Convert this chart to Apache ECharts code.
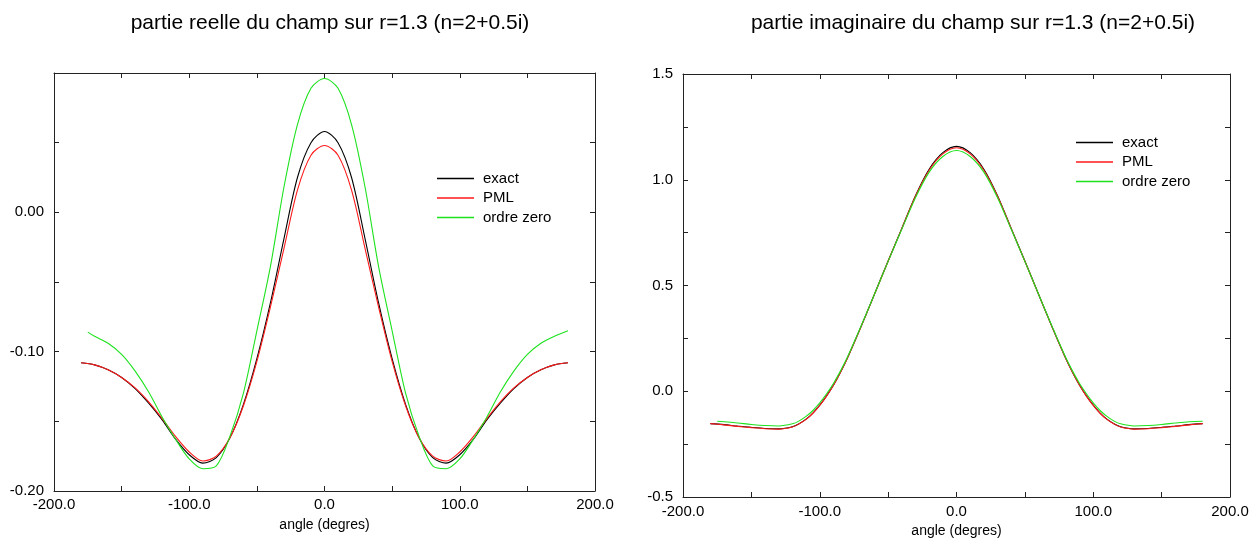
<!DOCTYPE html>
<html>
<head>
<meta charset="utf-8">
<script src="https://cdn.jsdelivr.net/npm/echarts@6/dist/echarts.min.js"></script>
<style>
html, body { margin: 0; padding: 0; background: #fff; }
#main { width: 1254px; height: 544px; }
</style>
</head>
<body>
<div id="main"></div>
<script>
// angles (degres) - partie reelle
var anglesRe = [-180, -170, -160, -150, -140, -130, -120, -110, -100, -90, -80, -70, -60, -50, -40, -30, -20, -10,
	0, 10, 20, 30, 40, 50, 60, 70, 80, 90, 100, 110, 120, 130, 140, 150, 160, 170, 180];
var anglesReZero = [-175, -170, -160, -150, -140, -130, -120, -110, -100, -90, -80, -70, -60, -50, -40, -30, -20, -10,
	0, 10, 20, 30, 40, 50, 60, 70, 80, 90, 100, 110, 120, 130, 140, 150, 160, 170, 180];
// angles (degres) - partie imaginaire
var anglesIm = [-180, -170, -160, -150, -140, -130, -120, -115, -110, -105, -100, -95, -90, -85, -80, -70, -60, -50, -40, -30, -20, -10,
	0, 10, 20, 30, 40, 50, 60, 70, 80, 85, 90, 95, 100, 105, 110, 115, 120, 130, 140, 150, 160, 170, 180];
var anglesImZero = [-175, -170, -160, -150, -140, -130, -120, -115, -110, -105, -100, -95, -90, -85, -80, -70, -60, -50, -40, -30, -20, -10,
	0, 10, 20, 30, 40, 50, 60, 70, 80, 85, 90, 95, 100, 105, 110, 115, 120, 130, 140, 150, 160, 170, 180];

// partie reelle
var reExact = [-0.108, -0.1095, -0.113, -0.1185, -0.1265, -0.137, -0.149, -0.163, -0.174, -0.180, -0.176, -0.162, -0.138, -0.105, -0.065, -0.019, 0.025, 0.050,
	0.058, 0.050, 0.025, -0.019, -0.065, -0.105, -0.138, -0.162, -0.176, -0.180, -0.174, -0.163, -0.149, -0.137, -0.1265, -0.1185, -0.113, -0.1095, -0.108];
var rePML = [-0.108, -0.1095, -0.113, -0.1185, -0.126, -0.136, -0.148, -0.161, -0.172, -0.1785, -0.175, -0.162, -0.139, -0.107, -0.068, -0.026, 0.016, 0.041,
	0.048, 0.041, 0.016, -0.026, -0.068, -0.107, -0.139, -0.162, -0.175, -0.1785, -0.172, -0.161, -0.148, -0.136, -0.126, -0.1185, -0.113, -0.1095, -0.108];
var reZero = [-0.086, -0.089, -0.094, -0.102, -0.114, -0.129, -0.147, -0.163, -0.177, -0.184, -0.182, -0.161, -0.130, -0.085, -0.039, 0.018, 0.063, 0.089,
	0.096, 0.089, 0.063, 0.018, -0.039, -0.085, -0.130, -0.161, -0.182, -0.184, -0.177, -0.163, -0.147, -0.129, -0.114, -0.102, -0.094, -0.089, -0.085];

// partie imaginaire
var imExact = [-0.153, -0.158, -0.165, -0.171, -0.176, -0.178, -0.168, -0.153, -0.132, -0.103, -0.066, -0.022, 0.029, 0.088, 0.154, 0.303, 0.459, 0.616, 0.770, 0.925, 1.050, 1.128,
	1.158, 1.128, 1.050, 0.925, 0.770, 0.616, 0.459, 0.303, 0.154, 0.088, 0.029, -0.022, -0.066, -0.103, -0.132, -0.153, -0.168, -0.178, -0.176, -0.171, -0.165, -0.158, -0.153];
var imPML = [-0.153, -0.159, -0.166, -0.172, -0.177, -0.179, -0.169, -0.154, -0.133, -0.104, -0.067, -0.023, 0.028, 0.087, 0.153, 0.302, 0.458, 0.615, 0.769, 0.922, 1.045, 1.122,
	1.151, 1.122, 1.045, 0.922, 0.769, 0.615, 0.458, 0.302, 0.153, 0.087, 0.028, -0.023, -0.067, -0.104, -0.133, -0.154, -0.169, -0.179, -0.177, -0.172, -0.166, -0.159, -0.153];
var imZero = [-0.142, -0.144, -0.150, -0.157, -0.162, -0.164, -0.154, -0.140, -0.119, -0.091, -0.055, -0.012, 0.037, 0.094, 0.158, 0.305, 0.459, 0.614, 0.766, 0.915, 1.036, 1.110,
	1.138, 1.110, 1.036, 0.915, 0.766, 0.614, 0.459, 0.305, 0.158, 0.094, 0.037, -0.012, -0.055, -0.091, -0.119, -0.140, -0.154, -0.164, -0.162, -0.157, -0.150, -0.144, -0.142];

var seriesNames = ['exact', 'PML', 'ordre zero'];
var seriesColors = ['#000000', '#ff1a1a', '#1ee21e'];

var pairs = function(xs, ys) {
	var out = [];
	for (var i = 0; i < xs.length; i++) {
		out.push([xs[i], ys[i]]);
	}
	return out;
};

var FONT = '"Liberation Sans", Arial, sans-serif';
var frameColor = '#222';

var xLabel = function(v) {
	var r = Math.round(v);
	if (r % 100 !== 0) return '';
	return r.toFixed(1);
};

var makeX = function(grid, pos, margin) {
	return {
		type : 'value',
		gridIndex : grid,
		position : pos,
		min : -200,
		max : 200,
		interval : 50,
		name : pos == 'bottom' ? 'angle (degres)' : '',
		nameLocation : 'middle',
		nameGap : 27,
		nameTextStyle : { fontFamily : FONT, fontSize : 14, color : '#000' },
		axisLine : { show : true, onZero : false, lineStyle : { color : frameColor, width : 1 } },
		axisTick : { show : true, inside : true, length : 5, lineStyle : { color : frameColor } },
		axisLabel : {
			show : pos == 'bottom',
			margin : margin,
			fontFamily : FONT,
			fontSize : 15,
			color : '#000',
			showMinLabel : true,
			showMaxLabel : true,
			formatter : xLabel
		},
		splitLine : { show : false }
	};
};

var makeY = function(grid, pos, min, max, interval, formatter) {
	return {
		type : 'value',
		gridIndex : grid,
		position : pos,
		min : min,
		max : max,
		interval : interval,
		axisLine : { show : true, onZero : false, lineStyle : { color : frameColor, width : 1 } },
		axisTick : { show : true, inside : true, length : 5, lineStyle : { color : frameColor } },
		axisLabel : {
			show : pos == 'left',
			margin : 10,
			fontFamily : FONT,
			fontSize : 15,
			color : '#000',
			showMinLabel : true,
			showMaxLabel : true,
			formatter : formatter
		},
		splitLine : { show : false }
	};
};

// gauche : labels -0.20, -0.10, 0.00 (pas de 0.10)
var reLabel = function(v) {
	var r = Math.round(v * 100);
	if (r % 10 !== 0 || r === 10) return '';
	return (r / 100).toFixed(2);
};
// droite : labels tous les 0.5
var imLabel = function(v) {
	var r = Math.round(v * 100);
	if (r % 50 !== 0) return '';
	return (r / 100).toFixed(1);
};

var makeSeries = function(name, idx, grid, data) {
	return {
		name : name,
		type : 'line',
		xAxisIndex : grid * 2,
		yAxisIndex : grid * 2,
		data : data,
		showSymbol : false,
		smooth : 0.3,
		silent : true,
		lineStyle : { color : seriesColors[idx], width : 1.1 },
		itemStyle : { color : seriesColors[idx] },
		z : 2 + idx
	};
};

var makeLegend = function(left, top) {
	return {
		orient : 'vertical',
		left : left,
		top : top,
		itemWidth : 37,
		itemHeight : 1.5,
		itemGap : 4.5,
		icon : 'rect',
		data : seriesNames,
		selectedMode : false,
		textStyle : { fontFamily : FONT, fontSize : 15, color : '#000', lineHeight : 15, padding : [0, 0, 0, 4] }
	};
};

var myChart = echarts.init(document.getElementById('main'), null, { renderer : 'canvas' });

var option = {
	animation : false,
	backgroundColor : '#fff',
	title : [ {
		text : 'partie reelle du champ sur r=1.3 (n=2+0.5i)',
		left : 325,
		top : 8,
		textAlign : 'center',
		textStyle : { fontFamily : FONT, fontSize : 21, fontWeight : 'normal', color : '#000' }
	}, {
		text : 'partie imaginaire du champ sur r=1.3 (n=2+0.5i)',
		left : 968,
		top : 8,
		textAlign : 'center',
		textStyle : { fontFamily : FONT, fontSize : 21, fontWeight : 'normal', color : '#000' }
	} ],
	legend : [ makeLegend(432, 166), makeLegend(1071, 130) ],
	grid : [ {
		left : 54, right : 659, top : 73, bottom : 53, containLabel : false
	}, {
		left : 683, right : 24, top : 74, bottom : 47, containLabel : false
	} ],
	xAxis : [ makeX(0, 'bottom', 6), makeX(0, 'top', 6), makeX(1, 'bottom', 7), makeX(1, 'top', 7) ],
	yAxis : [
		makeY(0, 'left', -0.2, 0.1, 0.05, reLabel),
		makeY(0, 'right', -0.2, 0.1, 0.05, reLabel),
		makeY(1, 'left', -0.5, 1.5, 0.25, imLabel),
		makeY(1, 'right', -0.5, 1.5, 0.25, imLabel)
	],
	series : [
		makeSeries('exact', 0, 0, pairs(anglesRe, reExact)),
		makeSeries('PML', 1, 0, pairs(anglesRe, rePML)),
		makeSeries('ordre zero', 2, 0, pairs(anglesReZero, reZero)),
		makeSeries('exact', 0, 1, pairs(anglesIm, imExact)),
		makeSeries('PML', 1, 1, pairs(anglesIm, imPML)),
		makeSeries('ordre zero', 2, 1, pairs(anglesImZero, imZero))
	]
};
myChart.setOption(option);
</script>
</body>
</html>
